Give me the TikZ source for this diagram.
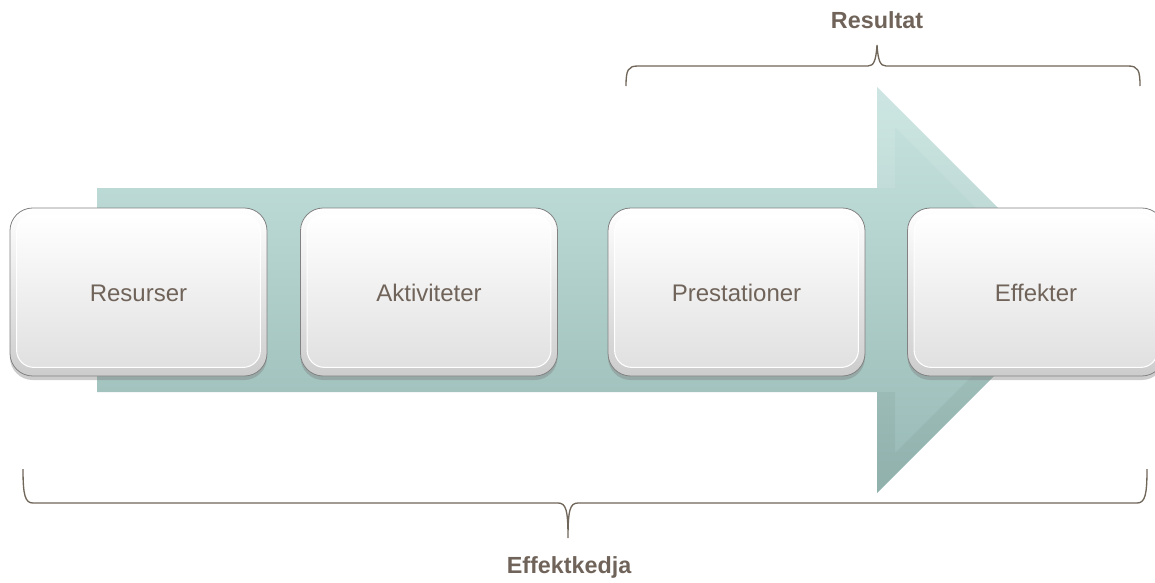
\documentclass[tikz,border=0pt]{standalone}
\usepackage{fontspec}
\setmainfont{Liberation Sans}
\usetikzlibrary{shadows,calc}
\definecolor{txt}{RGB}{112,100,90}
\definecolor{brace}{RGB}{112,102,90}
\definecolor{arrtop}{RGB}{200,228,224}
\definecolor{arrbot}{RGB}{150,184,180}
\definecolor{boxedge}{RGB}{130,130,130}
\tikzset{
  stepbox/.style={rounded corners=17pt, minimum width=192.75pt, minimum height=126pt,
    inner sep=0pt, draw=boxedge, line width=0.6pt, top color=white, bottom color=gray!40,
    drop shadow={shadow xshift=0pt, shadow yshift=-3pt, opacity=0.4, fill=gray}},
  innerface/.style={rounded corners=13pt, draw=white, line width=0.8pt, top color=white, bottom color=gray!24},
  boxtext/.style={text=txt, font=\fontsize{18pt}{20pt}\selectfont},
  bracelabel/.style={text=txt, font=\bfseries\fontsize{17.5pt}{20pt}\selectfont},
  bracepath/.style={draw=brace, line width=1pt}
}
\begin{document}
\begin{tikzpicture}[x=0.75pt, y=-0.75pt]
\useasboundingbox (0,0) rectangle (1155,582);
% big arrow
\path[top color=arrtop, bottom color=arrbot, shading angle=0]
  (97,188) -- (877,188) -- (877,87) -- (1080,290) -- (877,493) -- (877,392) -- (97,392) -- cycle;
% subtle bevel of the arrow head
\fill[white, opacity=0.10] (877,87) -- (1080,290) -- (1058,290) -- (895,127) -- (895,188) -- (877,188) -- cycle;
\fill[black, opacity=0.04] (877,493) -- (1080,290) -- (1058,290) -- (895,453) -- (895,392) -- (877,392) -- cycle;
% boxes
\foreach \n/\x/\t in {b1/138.5/Resurser, b2/429/Aktiviteter, b3/736.5/Prestationer, b4/1036/Effekter}{
  \node[stepbox] (\n) at (\x,292) {};
  \path[innerface] ($(\n.north west)+(7,7)$) rectangle ($(\n.south east)+(-7,-9)$);
  \node[boxtext] at (\x,293) {\t};
}
% top brace
\coordinate (tl) at (626,86);
\coordinate (tr) at (1140,86);
\coordinate (tt) at (877,45);
\draw[bracepath] (tl) .. controls (626,70) and (628,66) .. (638,66) -- (868,66)
  .. controls (874,66) and (876,60) .. (tt) .. controls (878,60) and (880,66) .. (886,66)
  -- (1128,66) .. controls (1138,66) and (1140,70) .. (tr);
\node[bracelabel] (res) at (877,20) {Resultat};
% bottom brace
\coordinate (bl) at (23,469);
\coordinate (br) at (1147,469);
\coordinate (bt) at (568,538);
\draw[bracepath] (bl) .. controls (23,495) and (25,503) .. (33,503) -- (558,503)
  .. controls (566,503) and (568,510) .. (bt) .. controls (568,510) and (570,503) .. (578,503)
  -- (1137,503) .. controls (1145,503) and (1147,495) .. (br);
\node[bracelabel] (eff) at (569,567) {Effektkedja};
\end{tikzpicture}
\end{document}
